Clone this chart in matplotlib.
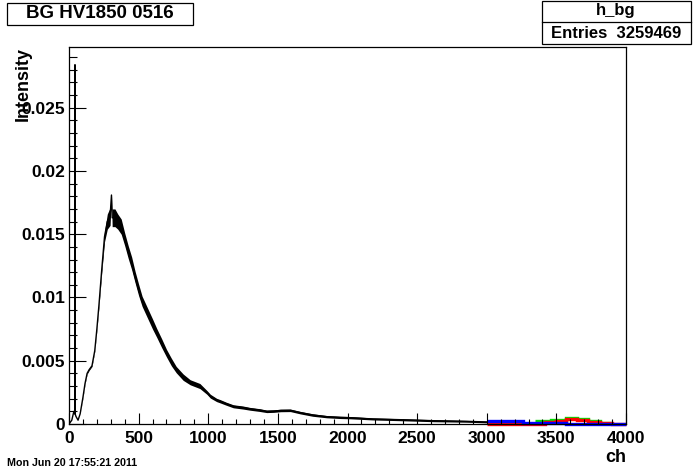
import numpy as np
import matplotlib
matplotlib.use('Agg')
import matplotlib.pyplot as plt
from matplotlib.patches import Rectangle
import matplotlib.ticker as mticker

plt.rcParams['font.family'] = ['Liberation Sans', 'DejaVu Sans']
plt.rcParams['font.weight'] = 'bold'

# main histogram h_bg (channel, intensity, band half-width)
ch = [0, 20, 35, 42, 43, 44, 50, 65, 80, 100, 115, 130, 145, 165, 185, 200, 215, 235, 255, 275,
      295, 305, 310, 330, 350, 375, 400, 425, 450, 475, 500, 525, 550, 575, 600, 630,
      665, 700, 735, 770, 820, 870, 940, 990, 1015, 1060, 1085, 1130, 1180, 1250, 1300,
      1370, 1420, 1470, 1520, 1590, 1660, 1750, 1850, 1950, 2020, 2180, 2380, 2620,
      2860, 3000]
intensity = [0.0, 0.0003, 0.0010, 0.0008, 0.0284, 0.0008, 0.0006, 0.0003, 0.0008, 0.0021,
             0.0032, 0.0040, 0.0043, 0.0046, 0.0058, 0.0075, 0.0094, 0.0122, 0.0148, 0.0160,
             0.0164, 0.0181, 0.0163, 0.0163, 0.0160, 0.0156, 0.0146, 0.0136, 0.0127, 0.0116,
             0.0106, 0.0097, 0.0091, 0.0085, 0.0079, 0.0072, 0.0064, 0.0056, 0.0049, 0.0043,
             0.0037, 0.0033, 0.0030, 0.0025, 0.0022, 0.0019, 0.0018, 0.0016, 0.0014, 0.0013,
             0.0012, 0.0011, 0.0010, 0.00102, 0.00107, 0.00108, 0.0009, 0.00071, 0.00058,
             0.00052, 0.0005, 0.0004, 0.00034, 0.00026, 0.00021, 0.00016]
spread = [0.0, 0.0, 0.0, 0.0, 0.0, 0.0, 0.0, 0.0, 0.0, 0.00005, 0.00005, 0.00006, 0.00006,
          0.00006, 0.00006, 0.0001, 0.00015, 0.00025, 0.0004, 0.0006, 0.0007, 0.0, 0.0007,
          0.0007, 0.0006, 0.0006, 0.0005, 0.0005, 0.0005, 0.00045, 0.00045, 0.0004, 0.0004,
          0.0004, 0.0004, 0.00035, 0.00035, 0.0003, 0.0003, 0.00025, 0.00025, 0.0002,
          0.0002, 0.00015, 0.00015, 0.00013, 0.00013, 0.00012, 0.00012, 0.00012, 0.00011,
          0.00011, 0.0001, 0.0001, 0.0001, 0.0001, 0.0001, 0.0001, 0.00009, 0.00009,
          0.00009, 0.00008, 0.00008, 0.00008, 0.00007, 0.00007]

# overlaid histograms above 3000 ch
green_edges = [3350, 3460, 3570, 3650, 3730, 3810, 3900]
green_vals = [0.0002, 0.00032, 0.00045, 0.00037, 0.00025, 0.0001]
red_edges = [3000, 3420, 3500, 3570, 3650, 3730, 3810, 3900, 4000]
red_vals = [0.00002, 0.00015, 0.00026, 0.00037, 0.00028, 0.00018, 0.00006, 0.00002]
blue_edges = [3000, 3260, 3570, 4000]
blue_vals = [0.0002, 0.00008, 0.00002]

xticks = [0, 500, 1000, 1500, 2000, 2500, 3000, 3500, 4000]
yticks = [0, 0.005, 0.01, 0.015, 0.02, 0.025]
ytick_labels = ['0', '0.005', '0.01', '0.015', '0.02', '0.025']

W, H = 696, 472
fig = plt.figure(figsize=(W / 100, H / 100), dpi=100)
ax = fig.add_axes([69 / W, 1 - 424 / H, 557 / W, 377 / H])

ch = np.array(ch)
intensity = np.array(intensity)
spread = np.array(spread)
ax.fill_between(ch, intensity - spread, intensity + spread, color='black', lw=0)
ax.plot(ch, intensity, color='black', lw=1.0)

ax.stairs(green_vals, green_edges, baseline=None, color='#00e000', lw=2.4, clip_on=False)
ax.stairs(red_vals, red_edges, baseline=None, color='red', lw=2.4, clip_on=False)
ax.stairs(blue_vals, blue_edges, baseline=None, color='blue', lw=2.4, clip_on=False)

ax.set_xlim(0, 4000)
ax.set_ylim(0, 0.0298)
ax.set_xticks(xticks)
ax.set_yticks(yticks)
ax.set_yticklabels(ytick_labels)
ax.xaxis.set_minor_locator(mticker.MultipleLocator(100))
ax.yaxis.set_minor_locator(mticker.MultipleLocator(0.001))
ax.tick_params(axis='x', which='major', direction='in', length=8, width=0.8,
               labelsize=12.5, pad=5)
ax.tick_params(axis='x', which='minor', direction='in', length=3.6, width=0.8)
ax.tick_params(axis='y', which='major', direction='in', length=12, width=0.8,
               labelsize=12.5, pad=3)
ax.tick_params(axis='y', which='minor', direction='in', length=5.5, width=0.8)
for s in ax.spines.values():
    s.set_linewidth(0.9)
    s.set_zorder(5)

fig.text(23 / W, 1 - 47 / H, 'Intensity', rotation=90, ha='center', va='top',
         fontsize=13, fontweight='bold')
fig.text(626 / W, 1 - 458 / H, 'ch', ha='right', va='center', fontsize=13,
         fontweight='bold')

# title box
fig.patches.append(Rectangle((7 / W, 1 - 25 / H), 186 / W, 22 / H, transform=fig.transFigure,
                             fill=False, edgecolor='black', lw=0.9))
fig.text(100 / W, 1 - 14 / H, 'BG HV1850 0516', ha='center', va='center', fontsize=13.5,
         fontweight='bold')

# stats box
fig.patches.append(Rectangle((541.5 / W, 1 - 43.5 / H), 149 / W, 43 / H,
                             transform=fig.transFigure, fill=False, edgecolor='black', lw=0.9))
fig.lines.append(plt.Line2D([541.5 / W, 690.5 / W], [1 - 22 / H, 1 - 22 / H],
                            transform=fig.transFigure, color='black', lw=0.9))
fig.text(616 / W, 1 - 11 / H, 'h_bg', ha='center', va='center', fontsize=12,
         fontweight='bold')
fig.text(616 / W, 1 - 33 / H, 'Entries  3259469', ha='center', va='center', fontsize=12,
         fontweight='bold')

fig.text(7 / W, 1 - 463 / H, 'Mon Jun 20 17:55:21 2011', ha='left', va='center',
         fontsize=7.7, fontweight='bold')

fig.savefig('out.png', dpi=100)
